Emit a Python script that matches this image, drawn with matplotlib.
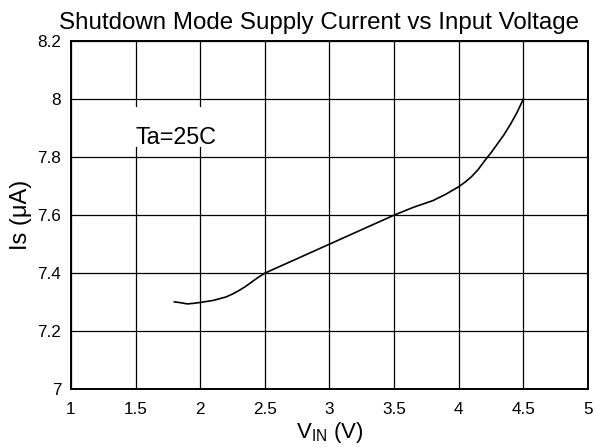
import numpy as np
import matplotlib.pyplot as plt
from matplotlib.patches import Rectangle

plt.rcParams['font.family'] = ['Liberation Sans', 'DejaVu Sans']
plt.rcParams['mathtext.fontset'] = 'custom'
plt.rcParams['mathtext.rm'] = 'Liberation Sans'

# curve
vin = [1.8, 1.85, 1.9, 1.95, 2.0, 2.1, 2.2, 2.25, 2.3, 2.35, 2.4, 2.45, 2.5,
       3.0, 3.5, 3.65, 3.8, 3.9, 4.0, 4.05, 4.1, 4.15, 4.2, 4.25, 4.3, 4.35,
       4.4, 4.45, 4.5]
i_s = [7.301, 7.298, 7.294, 7.296, 7.299, 7.306, 7.318, 7.328, 7.340, 7.354,
       7.370, 7.386, 7.40, 7.50, 7.60, 7.627, 7.65, 7.672, 7.698, 7.714,
       7.733, 7.757, 7.787, 7.815, 7.846, 7.877, 7.913, 7.953, 8.0]

xticks = [1, 1.5, 2, 2.5, 3, 3.5, 4, 4.5, 5]
xticklabels = ['1', '1.5', '2', '2.5', '3', '3.5', '4', '4.5', '5']
yticks = [7, 7.2, 7.4, 7.6, 7.8, 8, 8.2]
yticklabels = ['7', '7.2', '7.4', '7.6', '7.8', '8', '8.2']

fig = plt.figure(figsize=(5.97, 4.47), dpi=100)
ax = fig.add_axes([0.1189, 0.1293, 0.8660, 0.7789])

ax.plot(vin, i_s, color='black', lw=1.2, zorder=3)

ax.set_xlim(1, 5)
ax.set_ylim(7, 8.2)
ax.set_xticks(xticks)
ax.set_xticklabels(xticklabels)
ax.set_yticks(yticks)
ax.set_yticklabels(yticklabels)
ax.tick_params(length=0, labelsize=12.3)
ax.tick_params(axis='x', pad=9.5)
ax.tick_params(axis='y', pad=7)
ax.grid(True, color='black', lw=0.9)
ax.set_axisbelow(True)
for s in ax.spines.values():
    s.set_linewidth(1.4)

# white box behind the annotation hides the grid lines
ax.add_patch(Rectangle((1.44, 7.834), 0.75, 0.138, facecolor='white',
                       edgecolor='none', zorder=1.5))
ax.text(1.5, 7.845, 'Ta=25C', fontsize=16.8, va='baseline', zorder=4)

ax.set_title('Shutdown Mode Supply Current vs Input Voltage', fontsize=17.4,
             pad=9, x=0.48)
ax.set_xlabel('V$_{\\rm IN}$ (V)', fontsize=16, labelpad=2)
ax.set_ylabel('Is (μA)', fontsize=17, labelpad=4)

fig.savefig('out.png', dpi=100)
